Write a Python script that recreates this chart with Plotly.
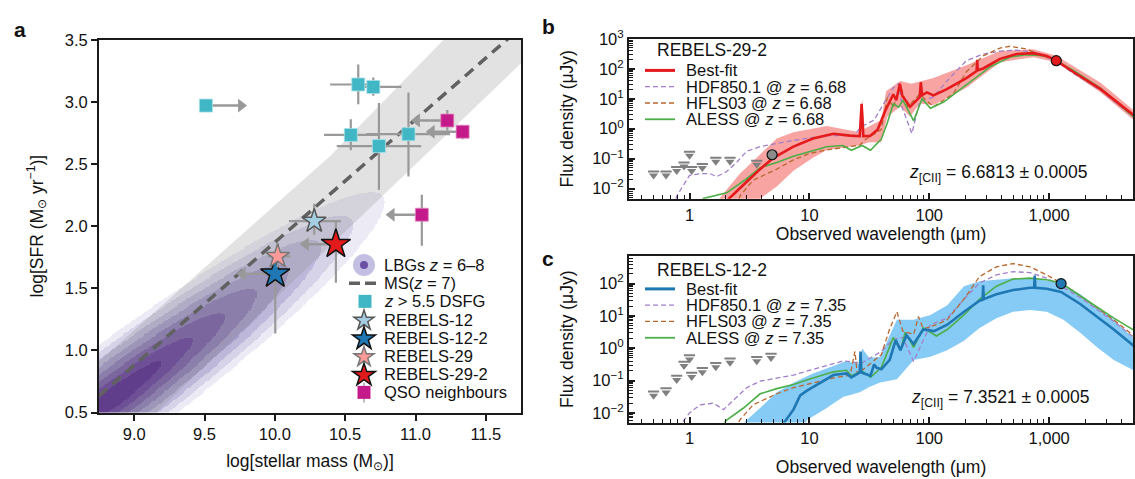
import numpy as np
import plotly.graph_objects as go

W, H = 1135, 479
FONT = "Liberation Sans, Arial, Helvetica, sans-serif"

# ---------------- Panel a data ----------------
ms_mass = [8.75, 11.75]
ms_sfr = [0.633, 3.60]
band_up_mass = [8.75, 10.39, 11.20, 11.75]
band_up_sfr = [0.91, 2.56, 3.50, 4.08]
band_lo_mass = [8.75, 11.75]
band_lo_sfr = [0.06, 3.31]

# LBG density (z = 6-8) described by an elongated Gaussian
lbg_center = (8.85, 0.62)
lbg_axis_slope = 0.85
lbg_sigma_major = 0.74
lbg_sigma_minor = 0.115
lbg_levels = [0.6, 1.0, 1.4, 1.8, 2.2, 2.6, 3.0, 3.4]   # contour levels in sigma units
lbg_colors = ["#4a1a85", "#5b3393", "#6f529f", "#8773b0", "#a095c4", "#bab4d8", "#d4d1e8", "#ebe9f4"]

dsfg_mass = [9.51, 10.593, 10.70, 10.54, 10.74, 10.95]
dsfg_sfr = [2.97, 3.14, 3.12, 2.734, 2.644, 2.74]
dsfg_mass_minus = [0.0, 0.20, 0.10, 0.19, 0.30, 0.30]
dsfg_mass_plus = [0.0, 0.15, 0.20, 0.20, 0.30, 0.295]
dsfg_sfr_minus = [0.03, 0.16, 0.07, 0.124, 0.354, 0.34]
dsfg_sfr_plus = [0.03, 0.16, 0.077, 0.126, 0.346, 0.336]
dsfg_limit_mass = [9.51]
dsfg_limit_sfr = [2.97]
dsfg_limit_to = [9.76]

qso_mass = [11.226, 11.335, 11.045]
qso_sfr = [2.85, 2.76, 2.092]
qso_sfr_minus = [0.08, 0.06, 0.25]
qso_sfr_plus = [0.085, 0.04, 0.16]
qso_limit_to = [11.01, 11.115, 10.83]

rebels_names = ["REBELS-12", "REBELS-12-2", "REBELS-29", "REBELS-29-2"]
rebels_mass = [10.28, 10.003, 10.02, 10.434]
rebels_sfr = [2.04, 1.616, 1.757, 1.855]
rebels_mass_minus = [0.18, 0.0, 0.07, 0.0]
rebels_mass_plus = [0.19, 0.0, 0.09, 0.0]
rebels_sfr_minus = [0.11, 0.48, 0.09, 0.31]
rebels_sfr_plus = [0.14, 0.05, 0.11, 0.185]
rebels_limit_mass = [10.003, 10.434]
rebels_limit_sfr = [1.616, 1.855]
rebels_limit_to = [9.77, 10.22]
rebels_colors = ["#a6cee3", "#1f78b4", "#fb9a99", "#e31a1c"]
rebels_edge = ["#555555", "#111111", "#777777", "#111111"]
rebels_size = [18, 22, 18, 22]

# ---------------- Panel b data (log10 um, log10 uJy) ----------------
b_fit_lam = [0.30, 0.33, 0.477, 0.589, 0.70, 0.867, 1.03, 1.20, 1.34, 1.42, 1.436, 1.45, 1.506, 1.57, 1.634,
             1.70, 1.725, 1.755, 1.775, 1.84, 1.92, 1.93, 1.94, 1.98, 2.035, 2.147, 2.31, 2.395, 2.40, 2.405,
             2.45, 2.59, 2.73, 2.87, 2.98, 3.06, 3.20, 3.43, 3.70, 3.75]
b_fit_flux = [-2.6, -2.33, -1.77, -1.35, -0.97, -0.60, -0.33, -0.17, -0.23, -0.25, 0.83, -0.25, -0.24, -0.03, 0.61,
              1.15, 0.95, 1.5, 1.1, 0.73, 1.05, 1.55, 1.12, 1.21, 1.11, 1.32, 1.69, 1.92, 2.3, 1.95,
              2.01, 2.33, 2.49, 2.52, 2.43, 2.27, 1.90, 1.32, 0.47, 0.35]
b_hdf_lam = [-0.13, -0.107, -0.05, 0.0, 0.09, 0.17, 0.227, 0.31, 0.394, 0.477, 0.589, 0.728, 0.867, 1.145, 1.367,
             1.44, 1.54, 1.634, 1.70, 1.745, 1.775, 1.855, 1.92, 2.035, 2.17, 2.31, 2.45, 2.59, 2.73, 2.87,
             3.06, 3.20, 3.43, 3.70, 3.75]
b_hdf_flux = [-2.6, -2.25, -1.88, -1.56, -1.5, -1.5, -1.6, -1.43, -1.12, -0.75, -0.6, -0.49, -0.39, -0.23, -0.23,
              0.08, 0.29, 0.93, 1.36, 1.5, 0.7, -0.16, 0.9, 1.06, 1.69, 2.27, 2.49, 2.59, 2.62, 2.56,
              2.25, 1.85, 1.28, 0.40, 0.28]
b_hfls_lam = [0.40, 0.42, 0.53, 0.728, 0.867, 1.006, 1.145, 1.42, 1.47, 1.60, 1.65, 1.70, 1.76, 1.82, 1.92,
              2.035, 2.20, 2.31, 2.45, 2.59, 2.675, 2.81, 2.95, 3.06, 3.20, 3.43, 3.70, 3.75]
b_hfls_flux = [-2.6, -2.25, -1.72, -1.35, -1.04, -0.82, -0.71, -0.55, -0.35, -0.03, 1.04, 0.72, 1.41, 0.72, 1.15,
               0.73, 1.16, 1.9, 2.43, 2.69, 2.75, 2.66, 2.43, 2.27, 1.90, 1.30, 0.42, 0.3]
b_aless_lam = [0.08, 0.115, 0.31, 0.477, 0.589, 0.728, 0.867, 1.145, 1.28, 1.35, 1.44, 1.51, 1.60, 1.65, 1.70,
               1.745, 1.78, 1.87, 1.94, 2.01, 2.12, 2.31, 2.51, 2.675, 2.81, 2.98, 3.06, 3.20, 3.43, 3.70, 3.75]
b_aless_flux = [-2.6, -2.33, -2.14, -1.67, -1.30, -1.13, -0.92, -0.60, -0.56, -0.72, -0.56, -0.72, -0.35, 0.19, 0.83,
                0.72, 0.95, 0.26, 1.0, 0.68, 0.89, 1.48, 2.07, 2.39, 2.47, 2.43, 2.27, 1.95, 1.35, 0.41, 0.3]
b_band_up_lam = [0.20, 0.255, 0.42, 0.589, 0.728, 0.867, 1.145, 1.42, 1.44, 1.46, 1.60, 1.64, 1.757, 1.85, 2.035,
                 2.31, 2.59, 2.87, 3.06, 3.43, 3.70, 3.75]
b_band_up_flux = [-2.6, -2.3, -1.5, -0.86, -0.33, -0.12, 0.09, -0.12, 1.0, 0.0, 0.29, 1.25, 1.59, 1.5, 1.69,
                  2.12, 2.59, 2.65, 2.43, 1.53, 0.63, 0.5]
b_band_lo_lam = [0.55, 0.589, 0.728, 0.867, 1.03, 1.145, 1.42, 1.50, 1.60, 1.65, 1.757, 1.84, 1.92, 2.035, 2.31,
                 2.59, 2.87, 3.06, 3.43, 3.70, 3.75]
b_band_lo_flux = [-2.6, -2.33, -1.93, -1.40, -0.97, -0.71, -0.55, -0.45, -0.45, 0.4, 0.73, 0.41, 0.84, 0.79, 1.37,
                  2.22, 2.38, 2.22, 1.21, 0.31, 0.2]
b_lim_lam = [-0.30, -0.196, -0.107, -0.046, 0.0, 0.018, 0.107, 0.219, 0.338, 0.561]
b_lim_flux = [-1.5, -1.5, -1.35, -1.2, -0.84, -1.35, -1.25, -1.04, -1.04, -1.14]
b_det_lam = [0.689]
b_det_flux = [-0.87]
b_alma_lam = [3.06]
b_alma_flux = [2.27]

# ---------------- Panel c data (log10 um, log10 uJy) ----------------
c_fit_lam = [0.75, 0.867, 0.923, 0.98, 1.09, 1.20, 1.31, 1.35, 1.42, 1.427, 1.434, 1.51, 1.54, 1.56, 1.60, 1.67,
             1.72, 1.76, 1.81, 1.87, 1.95, 2.04, 2.15, 2.29, 2.42, 2.445, 2.45, 2.455, 2.56, 2.70, 2.84, 2.875,
             2.88, 2.885, 2.98, 3.10, 3.26, 3.54, 3.72, 3.75]
c_fit_flux = [-2.5, -1.9, -1.46, -1.31, -1.07, -0.83, -0.78, -0.9, -0.75, -0.1, -0.75, -0.85, -0.5, -0.6, -0.65, -0.36,
              0.25, -0.06, 0.4, 0.13, 0.58, 0.53, 0.73, 1.13, 1.47, 1.50, 1.95, 1.52, 1.67, 1.80, 1.87, 1.87,
              2.25, 1.87, 1.84, 1.74, 1.37, 0.58, 0.03, -0.03]
c_hdf_lam = [-0.08, -0.046, 0.0, 0.09, 0.2, 0.283, 0.367, 0.477, 0.589, 0.728, 0.867, 1.006, 1.145, 1.284, 1.367,
             1.44, 1.60, 1.70, 1.78, 1.87, 1.92, 2.01, 2.15, 2.29, 2.42, 2.56, 2.70, 2.84, 2.98, 3.26, 3.54, 3.72, 3.75]
c_hdf_flux = [-2.5, -2.22, -2.0, -1.75, -1.7, -1.9, -1.61, -1.22, -1.02, -0.92, -0.83, -0.68, -0.53, -0.39, -0.43,
              -0.45, -0.1, 0.28, 0.33, -0.41, 0.0, 0.73, 0.93, 1.52, 2.02, 2.27, 2.37, 2.34, 2.17, 1.57, 0.83, 0.28, 0.2]
c_hfls_lam = [0.38, 0.42, 0.53, 0.728, 0.867, 1.03, 1.20, 1.34, 1.38, 1.40, 1.47, 1.60, 1.67, 1.73, 1.78, 1.87,
              1.91, 1.95, 2.06, 2.15, 2.29, 2.42, 2.56, 2.70, 2.84, 2.98, 3.10, 3.26, 3.54, 3.72, 3.75]
c_hfls_flux = [-2.5, -2.22, -1.75, -1.41, -1.22, -1.07, -0.92, -0.83, -0.1, -0.8, -0.6, -0.2, 0.6, 1.13, 0.53, 0.43,
               0.98, 0.6, 0.73, 0.88, 1.52, 2.22, 2.52, 2.62, 2.52, 2.27, 2.02, 1.62, 0.88, 0.33, 0.25]
c_aless_lam = [0.25, 0.31, 0.45, 0.589, 0.728, 0.867, 1.03, 1.20, 1.31, 1.35, 1.44, 1.51, 1.60, 1.70, 1.76, 1.80,
               1.87, 1.95, 2.06, 2.15, 2.29, 2.42, 2.56, 2.70, 2.84, 2.98, 3.10, 3.26, 3.54, 3.72, 3.75]
c_aless_flux = [-2.5, -2.22, -1.85, -1.41, -1.25, -1.12, -0.92, -0.73, -0.68, -0.85, -0.70, -0.90, -0.60, 0.33, -0.06,
                0.5, 0.03, 0.63, 0.38, 0.58, 1.03, 1.52, 1.92, 2.14, 2.17, 2.12, 2.02, 1.62, 0.93, 0.53, 0.45]
c_band_up_lam = [0.40, 0.477, 0.589, 0.728, 0.867, 1.03, 1.20, 1.30, 1.42, 1.44, 1.50, 1.59, 1.73, 1.87, 2.01,
                 2.15, 2.29, 2.42, 2.70, 2.90, 3.10, 3.26, 3.54, 3.72, 3.75]
c_band_up_flux = [-2.5, -2.22, -1.85, -1.36, -1.07, -0.78, -0.55, -0.4, -0.48, 0.0, -0.3, -0.26, 0.88, 0.88, 1.03,
                  1.33, 1.92, 2.07, 2.17, 2.14, 2.02, 1.67, 0.88, 0.23, 0.15]
c_band_lo_lam = [0.95, 0.98, 1.145, 1.28, 1.42, 1.50, 1.59, 1.73, 1.87, 2.01, 2.15, 2.29, 2.42, 2.56, 2.70, 2.84,
                 2.98, 3.12, 3.26, 3.40, 3.54, 3.72, 3.75]
c_band_lo_flux = [-2.5, -2.22, -1.85, -1.51, -1.36, -1.2, -1.06, -0.96, -0.36, -0.26, -0.06, 0.23, 0.63, 0.93, 1.13,
                  1.18, 1.13, 0.88, 0.48, 0.03, -0.36, -0.71, -0.75]
c_lim_lam = [-0.30, -0.196, -0.107, -0.046, 0.0, 0.018, 0.107, 0.219, 0.338, 0.561, 0.68]
c_lim_flux = [-1.41, -1.31, -0.92, -0.49, -0.29, -0.83, -0.68, -0.53, -0.39, -0.34, -0.24]
c_alma_lam = [3.10]
c_alma_flux = [2.0]

# ---------------- styles ----------------
RED, RED_BAND = "#e41a1c", "#f8a4a2"
BLUE, BLUE_BAND = "#1f78b4", "#86cbf5"
PURPLE, BROWN, GREEN = "#a07fc8", "#b8672e", "#4cae47"
GREY_ERR = "#999999"
CYAN, MAGENTA = "#41b6c4", "#c51b8a"

def p(arr):
    return 10 ** np.asarray(arr, dtype=float)

fig = go.Figure()

# ================= Panel a =================
gx = np.linspace(8.75, 11.75, 361)
gy = np.linspace(0.5, 3.5, 361)
GX, GY = np.meshgrid(gx, gy)
th = np.arctan(lbg_axis_slope)
u = (GX - lbg_center[0]) * np.cos(th) + (GY - lbg_center[1]) * np.sin(th)
v = -(GX - lbg_center[0]) * np.sin(th) + (GY - lbg_center[1]) * np.cos(th)
R = np.sqrt((u / lbg_sigma_major) ** 2 + (v / lbg_sigma_minor) ** 2)
level = np.digitize(R, lbg_levels[:-1]).astype(float)   # 0 = innermost
level[R >= lbg_levels[-1]] = np.nan
n_lv = len(lbg_colors)
step_scale = []
for i, c in enumerate(lbg_colors):
    step_scale.append([i / n_lv, c])
    step_scale.append([(i + 1) / n_lv, c])
fig.add_trace(go.Heatmap(
    x=gx, y=gy, z=level, zmin=-0.5, zmax=n_lv - 0.5, colorscale=step_scale, showscale=False,
    opacity=0.95, hoverinfo="skip", xaxis="x", yaxis="y"))

# main-sequence scatter band (semi-transparent so the LBG density shows through)
fig.add_trace(go.Scatter(
    x=band_up_mass + band_lo_mass[::-1], y=band_up_sfr + band_lo_sfr[::-1],
    fill="toself", fillcolor="rgba(140,140,140,0.25)", line=dict(width=0), mode="lines",
    hoverinfo="skip", showlegend=False, xaxis="x", yaxis="y"))

fig.add_trace(go.Scatter(
    x=ms_mass, y=ms_sfr, mode="lines", line=dict(color="#616161", width=3.5, dash="11px,7px"),
    hoverinfo="skip", showlegend=False, xaxis="x", yaxis="y"))

def arrows(x0s, ys, x1s, direction):
    xs, yy = [], []
    for a, yv, b in zip(x0s, ys, x1s):
        xs += [a, b, None]
        yy += [yv, yv, None]
    fig.add_trace(go.Scatter(x=xs, y=yy, mode="lines", line=dict(color=GREY_ERR, width=2.5),
                             hoverinfo="skip", showlegend=False, xaxis="x", yaxis="y"))
    fig.add_trace(go.Scatter(x=x1s, y=ys, mode="markers",
                             marker=dict(symbol="triangle-" + direction, size=12, color=GREY_ERR),
                             hoverinfo="skip", showlegend=False, xaxis="x", yaxis="y"))

arrows(dsfg_limit_mass, dsfg_limit_sfr, dsfg_limit_to, "right")
arrows(qso_mass, qso_sfr, qso_limit_to, "left")
arrows(rebels_limit_mass, rebels_limit_sfr, rebels_limit_to, "left")

err_style = dict(color=GREY_ERR, thickness=2.2, width=0)
fig.add_trace(go.Scatter(
    x=dsfg_mass, y=dsfg_sfr, mode="markers",
    marker=dict(symbol="square", size=13, color=CYAN, line=dict(color="#a6e1e8", width=0.8)),
    error_x=dict(type="data", symmetric=False, array=dsfg_mass_plus, arrayminus=dsfg_mass_minus, **err_style),
    error_y=dict(type="data", symmetric=False, array=dsfg_sfr_plus, arrayminus=dsfg_sfr_minus, **err_style),
    showlegend=False, xaxis="x", yaxis="y"))
fig.add_trace(go.Scatter(
    x=qso_mass, y=qso_sfr, mode="markers",
    marker=dict(symbol="square", size=13, color=MAGENTA, line=dict(color="#e08cc0", width=0.8)),
    error_y=dict(type="data", symmetric=False, array=qso_sfr_plus, arrayminus=qso_sfr_minus, **err_style),
    showlegend=False, xaxis="x", yaxis="y"))
for i in range(len(rebels_names)):
    fig.add_trace(go.Scatter(
        x=[rebels_mass[i]], y=[rebels_sfr[i]], mode="markers", name=rebels_names[i],
        marker=dict(symbol="star", size=rebels_size[i], color=rebels_colors[i],
                    line=dict(color=rebels_edge[i], width=1.5)),
        error_x=dict(type="data", symmetric=False, array=[rebels_mass_plus[i]],
                     arrayminus=[rebels_mass_minus[i]], **err_style),
        error_y=dict(type="data", symmetric=False, array=[rebels_sfr_plus[i]],
                     arrayminus=[rebels_sfr_minus[i]], **err_style),
        showlegend=False, xaxis="x", yaxis="y"))

# ================= Panels b and c =================
def sed_panel(xa, ya, band_up, band_lo, band_col, hdf, hfls, aless, fit, fit_col, lims):
    bx = list(band_up[0]) + list(band_lo[0])[::-1]
    by = list(band_up[1]) + list(band_lo[1])[::-1]
    fig.add_trace(go.Scatter(x=p(bx), y=p(by), fill="toself", fillcolor=band_col, mode="lines",
                             line=dict(width=0), hoverinfo="skip", showlegend=False, xaxis=xa, yaxis=ya))
    fig.add_trace(go.Scatter(x=p(hdf[0]), y=p(hdf[1]), mode="lines",
                             line=dict(color=PURPLE, width=1.3, dash="5px,3px"),
                             showlegend=False, xaxis=xa, yaxis=ya))
    fig.add_trace(go.Scatter(x=p(hfls[0]), y=p(hfls[1]), mode="lines",
                             line=dict(color=BROWN, width=1.3, dash="5px,3px"),
                             showlegend=False, xaxis=xa, yaxis=ya))
    fig.add_trace(go.Scatter(x=p(aless[0]), y=p(aless[1]), mode="lines",
                             line=dict(color=GREEN, width=1.6), showlegend=False, xaxis=xa, yaxis=ya))
    fig.add_trace(go.Scatter(x=p(fit[0]), y=p(fit[1]), mode="lines",
                             line=dict(color=fit_col, width=2.6), showlegend=False, xaxis=xa, yaxis=ya))
    lam, fl = np.asarray(lims[0]), np.asarray(lims[1])
    fig.add_trace(go.Scatter(x=p(lam), y=p(fl + 0.07), mode="markers",
                             marker=dict(symbol="line-ew", size=8, line=dict(color="#808080", width=2)),
                             hoverinfo="skip", showlegend=False, xaxis=xa, yaxis=ya))
    fig.add_trace(go.Scatter(x=p(lam), y=p(fl - 0.06), mode="markers",
                             marker=dict(symbol="triangle-down", size=8, color="#808080"),
                             hoverinfo="skip", showlegend=False, xaxis=xa, yaxis=ya))

sed_panel("x2", "y2", (b_band_up_lam, b_band_up_flux), (b_band_lo_lam, b_band_lo_flux), RED_BAND,
          (b_hdf_lam, b_hdf_flux), (b_hfls_lam, b_hfls_flux), (b_aless_lam, b_aless_flux),
          (b_fit_lam, b_fit_flux), RED, (b_lim_lam, b_lim_flux))
fig.add_trace(go.Scatter(x=p(b_det_lam), y=p(b_det_flux), mode="markers",
                         marker=dict(symbol="circle", size=10, color="#8c8c8c", line=dict(color="#111", width=1.2)),
                         error_y=dict(type="percent", value=30, color="#111", thickness=1.5, width=0),
                         showlegend=False, xaxis="x2", yaxis="y2"))
fig.add_trace(go.Scatter(x=p(b_alma_lam), y=p(b_alma_flux), mode="markers",
                         marker=dict(symbol="circle", size=10, color=RED, line=dict(color="#111", width=1.2)),
                         showlegend=False, xaxis="x2", yaxis="y2"))

sed_panel("x3", "y3", (c_band_up_lam, c_band_up_flux), (c_band_lo_lam, c_band_lo_flux), BLUE_BAND,
          (c_hdf_lam, c_hdf_flux), (c_hfls_lam, c_hfls_flux), (c_aless_lam, c_aless_flux),
          (c_fit_lam, c_fit_flux), BLUE, (c_lim_lam, c_lim_flux))
fig.add_trace(go.Scatter(x=p(c_alma_lam), y=p(c_alma_flux), mode="markers",
                         marker=dict(symbol="circle", size=10, color=BLUE, line=dict(color="#111", width=1.2)),
                         showlegend=False, xaxis="x3", yaxis="y3"))

# ================= Layout =================
def X(px):
    return px / W

def Y(py):
    return 1 - py / H

TICKF = dict(family=FONT, size=16.5, color="#111")
TITLEF = dict(family=FONT, size=17.5, color="#111")
frame = dict(showline=True, mirror=True, linecolor="#1a1a1a", linewidth=2, showgrid=False, zeroline=False,
             tickfont=TICKF, tickcolor="#1a1a1a")

minor_x = [k * 10.0 ** d for d in range(-1, 4) for k in range(2, 10)]
minor_y = [k * 10.0 ** d for d in range(-3, 3) for k in range(2, 10)]
sup = {-2: "10<sup>−2</sup>", -1: "10<sup>−1</sup>", 0: "10<sup>0</sup>", 1: "10<sup>1</sup>",
       2: "10<sup>2</sup>", 3: "10<sup>3</sup>"}

a_xticks = [9.0, 9.5, 10.0, 10.5, 11.0, 11.5]
a_yticks = [0.5, 1.0, 1.5, 2.0, 2.5, 3.0, 3.5]

def log_x(dom_anchor, standoff):
    return dict(domain=[X(629), X(1133)], type="log", range=[-0.505, 3.70], anchor=dom_anchor,
                tickvals=[1, 10, 100, 1000], ticktext=["1", "10", "100", "1,000"],
                ticks="inside", ticklen=6, tickwidth=1.6,
                minor=dict(tickvals=minor_x, ticks="inside", ticklen=3.5, tickwidth=1.2, tickcolor="#1a1a1a"),
                title=dict(text="Observed wavelength (μm)", font=TITLEF, standoff=standoff), **frame)

def log_y(dom, rng, kmax, dom_anchor):
    return dict(domain=dom, type="log", range=rng, anchor=dom_anchor,
                tickvals=[10.0 ** k for k in range(-2, kmax + 1)], ticktext=[sup[k] for k in range(-2, kmax + 1)],
                ticks="inside", ticklen=6, tickwidth=1.6,
                minor=dict(tickvals=minor_y, ticks="inside", ticklen=3.5, tickwidth=1.2, tickcolor="#1a1a1a"),
                title=dict(text="Flux density (μJy)", font=TITLEF, standoff=14), **frame)

fig.update_layout(
    width=W, height=H, margin=dict(l=0, r=0, t=0, b=0),
    paper_bgcolor="white", plot_bgcolor="rgba(0,0,0,0)",
    font=dict(family=FONT, color="#111"), showlegend=False,
    xaxis=dict(domain=[X(99), X(521)], range=[8.75, 11.75], anchor="y",
               tickvals=a_xticks, ticktext=[f"{t:.1f}" for t in a_xticks],
               ticks="outside", ticklen=6, tickwidth=1.6,
               title=dict(text="log[stellar mass (M<sub>⊙</sub>)]", font=TITLEF, standoff=12), **frame),
    yaxis=dict(domain=[Y(419), Y(30)], range=[0.5, 3.5], anchor="x",
               tickvals=a_yticks, ticktext=[f"{t:.1f}" for t in a_yticks],
               ticks="outside", ticklen=6, tickwidth=1.6,
               title=dict(text="log[SFR (M<sub>⊙</sub> yr<sup>−1</sup>)]", font=TITLEF, standoff=17), **frame),
    xaxis2=log_x("y2", 2),
    yaxis2=log_y([Y(196), Y(29)], [-2.34, 3.0], 3, "x2"),
    xaxis3=log_x("y3", 14),
    yaxis3=log_y([Y(429.5), Y(255.5)], [-2.3, 2.86], 2, "x3"),
)

ann = []
shapes = []

def text(px, py, s, size=16.5, bold=False, anchor="left", box_h=None):
    d = dict(x=X(px), y=Y(py), xref="paper", yref="paper", text=("<b>%s</b>" % s) if bold else s,
             showarrow=False, xanchor=anchor, yanchor="middle", borderpad=0,
             font=dict(family=FONT, size=size, color="#111"))
    if box_h:
        d["height"] = box_h
        d["valign"] = "middle"
    ann.append(d)

# panel letters
text(13, 19, "a", size=21, bold=True)
text(541, 16, "b", size=21, bold=True)
text(541, 258, "c", size=21, bold=True)

# z[CII] labels
text(908, 170, "<i>z</i><sub>[CII]</sub> = 6.6813 ± 0.0005", size=17.5)
text(910, 404, "<i>z</i><sub>[CII]</sub> = 7.3521 ± 0.0005", size=17.5)

def pix_shape(kind, cx, cy, **kw):
    d = dict(type=kind, xref="paper", yref="paper", xsizemode="pixel", ysizemode="pixel",
             xanchor=X(cx), yanchor=Y(cy))
    d.update(kw)
    shapes.append(d)

def star_path(r_out, ratio=0.382):
    pts = []
    for k in range(10):
        ang = np.pi / 2 + k * np.pi / 5
        rr = r_out if k % 2 == 0 else r_out * ratio
        pts.append((rr * np.cos(ang), rr * np.sin(ang)))
    return "M " + " L ".join("%.2f,%.2f" % q for q in pts) + " Z"

# legend of panel a
rows_a = [265, 284, 303, 322, 341, 360, 379, 398]
sym_x, txt_x = 364, 383
pix_shape("circle", sym_x, rows_a[0], x0=-11, x1=11, y0=-11, y1=11, fillcolor="#c3bfe2", line=dict(width=0))
pix_shape("circle", sym_x, rows_a[0], x0=-4, x1=4, y0=-4, y1=4, fillcolor="#6a51a3", line=dict(width=0))
shapes.append(dict(type="line", xref="paper", yref="paper", x0=X(349), x1=X(380), y0=Y(rows_a[1]), y1=Y(rows_a[1]),
                   line=dict(color="#616161", width=3.5, dash="11px,5px")))
pix_shape("rect", sym_x + 1, rows_a[2], x0=-6.5, x1=6.5, y0=-6.5, y1=6.5, fillcolor=CYAN, line=dict(width=0))
for i in range(4):
    rr = 12 if rebels_size[i] > 20 else 10.5
    pix_shape("path", sym_x, rows_a[3 + i] + 1, path=star_path(rr), fillcolor=rebels_colors[i],
              line=dict(color=rebels_edge[i], width=1.5))
pix_shape("line", sym_x, rows_a[7], x0=0, x1=0, y0=-10, y1=10, line=dict(color="#bbbbbb", width=2))
pix_shape("rect", sym_x, rows_a[7], x0=-6.5, x1=6.5, y0=-6.5, y1=6.5, fillcolor=MAGENTA, line=dict(width=0))
a_labels = ["LBGs <i>z</i> = 6–8", "MS(<i>z</i> = 7)", "<i>z</i> > 5.5 DSFG"] + rebels_names + ["QSO neighbours"]
for ry, lab in zip(rows_a, a_labels):
    text(txt_x, ry, lab, size=16.5, box_h=18)

# legends of panels b and c
def sed_legend(title, rows, fit_col, zlab):
    text(656, rows[0], title, size=17.5, box_h=18)
    styles = [dict(color=fit_col, width=3), dict(color=PURPLE, width=1.3, dash="5px,3px"),
              dict(color=BROWN, width=1.3, dash="5px,3px"), dict(color=GREEN, width=1.8)]
    labs = ["Best-fit", "HDF850.1 @ <i>z</i> = " + zlab, "HFLS03 @ <i>z</i> = " + zlab, "ALESS @ <i>z</i> = " + zlab]
    for ry, st, lab in zip(rows[1:], styles, labs):
        shapes.append(dict(type="line", xref="paper", yref="paper", x0=X(645), x1=X(675),
                           y0=Y(ry), y1=Y(ry), line=st))
        text(685, ry, lab, size=16.5, box_h=16)

sed_legend("REBELS-29-2", [41, 62, 79, 96, 113], RED, "6.68")
sed_legend("REBELS-12-2", [270, 290, 307, 324, 341], BLUE, "7.35")

fig.update_layout(annotations=ann, shapes=shapes)
fig.write_html("out.html")
